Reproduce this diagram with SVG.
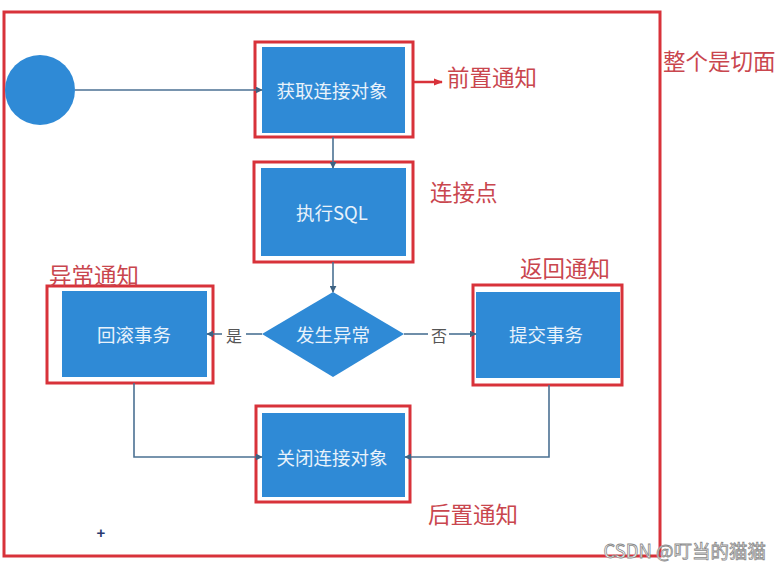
<svg xmlns="http://www.w3.org/2000/svg" width="781" height="570" viewBox="0 0 781 570">
<defs>
<marker id="ah" viewBox="0 0 10 10" refX="9" refY="5" markerWidth="7" markerHeight="7" orient="auto" markerUnits="userSpaceOnUse"><path d="M0,0 L10,5 L0,10 z" fill="#3d6283"/></marker>
<marker id="ahr" viewBox="0 0 10 10" refX="9" refY="5" markerWidth="9" markerHeight="9" orient="auto" markerUnits="userSpaceOnUse"><path d="M0,1 L10,5 L0,9 z" fill="#d8323a"/></marker>
<style>
.blue{fill:#2f8ad6}
.red{fill:none;stroke:#d8323a;stroke-width:3}
.bt{font-family:"Noto Sans CJK SC","Liberation Sans",sans-serif;font-size:18.5px;fill:#e8f2fb;text-anchor:middle;dominant-baseline:central}
.rt{font-family:"Noto Sans CJK SC",sans-serif;font-size:22.5px;fill:#c9464e;dominant-baseline:central}
.ln{fill:none;stroke:#4b7193;stroke-width:1.6}
.lbl{font-family:"Noto Sans CJK SC",sans-serif;font-size:16px;fill:#555;text-anchor:middle;dominant-baseline:central}
</style>
</defs>
<rect width="781" height="570" fill="#ffffff"/>
<g id="aspect">
<rect x="4" y="12" width="656" height="544" class="red"/>
<text x="663" y="60" class="rt">整个是切面</text>
</g>
<g id="start"><circle cx="40" cy="90" r="35" class="blue"/></g>
<g id="get-conn">
<rect x="255" y="42" width="158" height="95" class="red"/>
<rect x="262" y="47" width="143" height="86" class="blue"/>
<text x="332" y="90" class="bt">获取连接对象</text>
</g>
<g id="exec-sql">
<rect x="254" y="162" width="159" height="100" class="red"/>
<rect x="261" y="168" width="145" height="88" class="blue"/>
<text x="332" y="212" class="bt">执行SQL</text>
</g>
<g id="exception">
<polygon points="333,292 404,334 333,377 262,334" class="blue"/>
<text x="333" y="334" class="bt">发生异常</text>
</g>
<g id="rollback">
<rect x="47" y="286" width="166" height="97" class="red"/>
<rect x="62" y="291" width="145" height="86" class="blue"/>
<text x="134" y="334" class="bt">回滚事务</text>
</g>
<g id="commit">
<rect x="473" y="285" width="149" height="100" class="red"/>
<rect x="476" y="292" width="144" height="86" class="blue"/>
<text x="546" y="334" class="bt">提交事务</text>
</g>
<g id="close-conn">
<rect x="256" y="406" width="154" height="96" class="red"/>
<rect x="262" y="413" width="143" height="84" class="blue"/>
<text x="332" y="457" class="bt">关闭连接对象</text>
</g>
<g id="labels">
<text x="447" y="76" class="rt">前置通知</text>
<text x="430" y="191" class="rt">连接点</text>
<text x="49" y="274" class="rt">异常通知</text>
<text x="520" y="267" class="rt">返回通知</text>
<text x="428" y="513" class="rt">后置通知</text>
</g>
<g id="connectors">
<line x1="75" y1="90" x2="262" y2="90" class="ln" marker-end="url(#ah)"/>
<line x1="333" y1="137" x2="333" y2="168" class="ln" marker-end="url(#ah)"/>
<line x1="333" y1="262" x2="333" y2="292" class="ln" marker-end="url(#ah)"/>
<line x1="262" y1="334" x2="246" y2="334" class="ln"/>
<line x1="222" y1="334" x2="207" y2="334" class="ln" marker-end="url(#ah)"/>
<rect x="223" y="324" width="22" height="20" fill="#fff"/>
<text x="234" y="335" class="lbl">是</text>
<line x1="404" y1="334" x2="428" y2="334" class="ln"/>
<line x1="449" y1="334" x2="476" y2="334" class="ln" marker-end="url(#ah)"/>
<text x="439" y="335" class="lbl">否</text>
<polyline points="134,383 134,457 262,457" class="ln" marker-end="url(#ah)"/>
<polyline points="549,385 549,457 405,457" class="ln" marker-end="url(#ah)"/>
<line x1="413" y1="82" x2="442" y2="82" stroke="#d8323a" stroke-width="2.5" marker-end="url(#ahr)"/>
</g>
<text x="101" y="532" font-family="Liberation Sans,sans-serif" font-size="15" font-weight="bold" fill="#2a3a70" text-anchor="middle" dominant-baseline="central">+</text>
<text x="766" y="550" font-family="Noto Sans CJK SC,sans-serif" font-size="18.5" fill="#ffffff" stroke="#8a8a8a" stroke-width="0.8" text-anchor="end" dominant-baseline="central">CSDN @叮当的猫猫</text>
</svg>
